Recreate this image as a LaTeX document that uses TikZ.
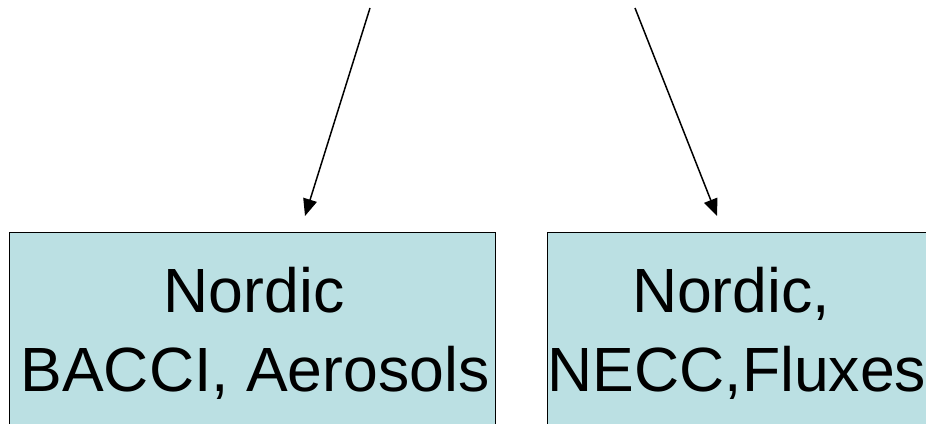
\documentclass[tikz,border=0pt]{standalone}
\usepackage{fontspec}
\setmainfont{Liberation Sans}
\usetikzlibrary{arrows.meta}
\definecolor{boxfill}{HTML}{BBE0E3}
\tikzset{
  boxnode/.style={draw=black, line width=1.2pt, fill=boxfill, minimum width=486pt, minimum height=260pt, inner sep=0pt, anchor=north west},
  txt/.style={font=\fontsize{62.5}{70}\selectfont, anchor=base, inner sep=0pt},
  conn/.style={line width=1.5pt, -{Triangle[length=17pt,width=14pt]}}
}
\begin{document}
\begin{tikzpicture}[x=1pt,y=-1pt]
\useasboundingbox (0,0) rectangle (926,423);
\clip (0,0) rectangle (926,423);
\node[boxnode] (b1) at (9,232) {};
\node[boxnode] (b2) at (547,232) {};
\node[txt] (t1a) at (254,312) {Nordic};
\node[txt] (t1b) at (255,391) {BACCI, Aerosols};
\node[txt] (t2a) at (731,312) {Nordic,};
\node[txt] (t2b) at (737,391) {NECC,Fluxes};
\coordinate (s1) at (370,8);
\coordinate (e1) at (305,216);
\coordinate (s2) at (635,8);
\coordinate (e2) at (717,216);
\draw[conn] (s1) -- (e1);
\draw[conn] (s2) -- (e2);
\end{tikzpicture}
\end{document}
